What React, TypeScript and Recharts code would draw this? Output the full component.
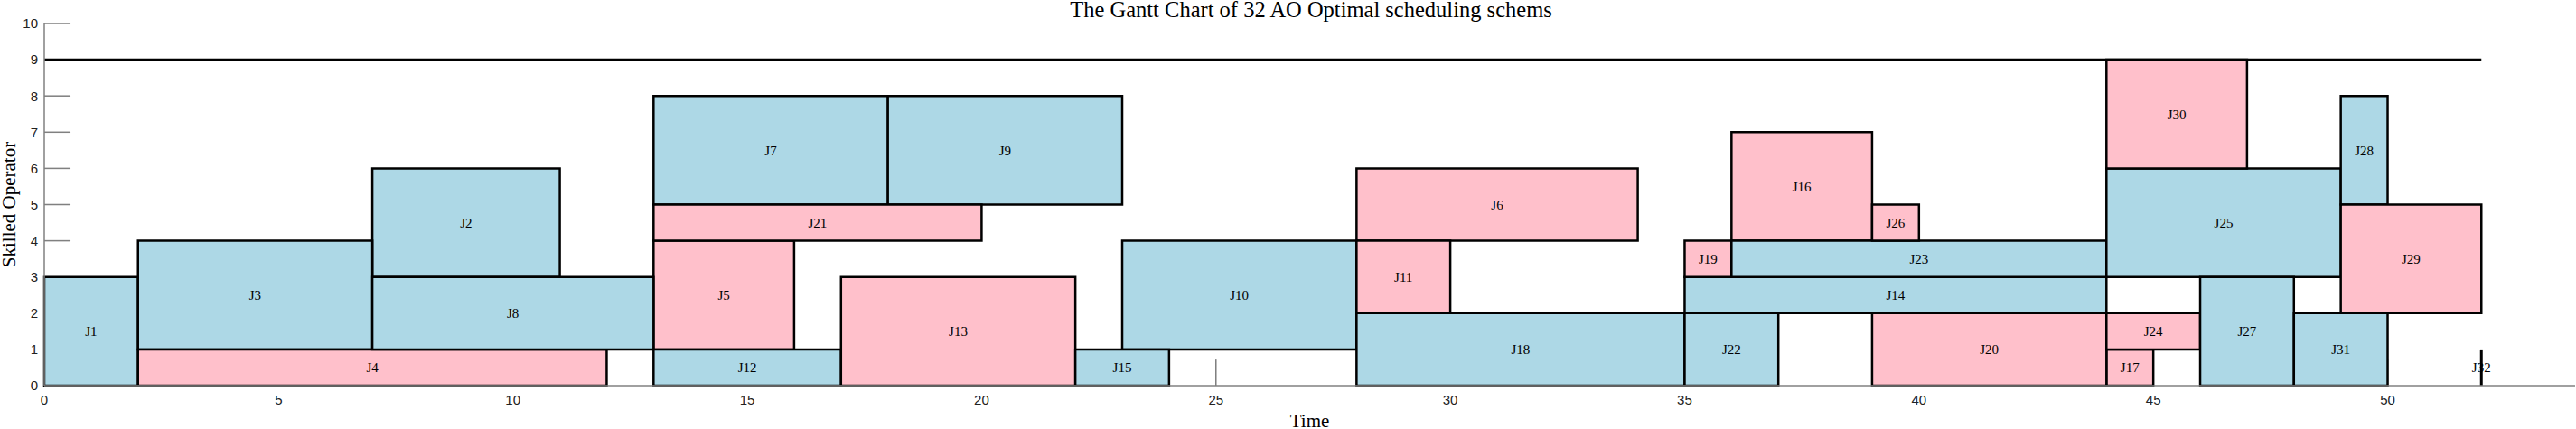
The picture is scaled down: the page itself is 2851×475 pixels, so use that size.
import { ComposedChart, XAxis, YAxis, ReferenceArea, ReferenceLine, Scatter } from 'recharts';

const TITLE = 'The Gantt Chart of 32 AO Optimal scheduling schems';

// one entry per job: start/end on the time axis, low/high operator band, job group
const JOBS = [
  'J1', 'J2', 'J3', 'J4', 'J5', 'J6', 'J7', 'J8', 'J9', 'J10', 'J11',
  'J12', 'J13', 'J14', 'J15', 'J16', 'J17', 'J18', 'J19', 'J20', 'J21',
  'J22', 'J23', 'J24', 'J25', 'J26', 'J27', 'J28', 'J29', 'J30', 'J31', 'J32',
];
const START = [0, 7, 2, 2, 13, 28, 13, 7, 18, 23, 28, 13, 17, 35, 22, 36, 44, 28, 35, 39, 13, 35, 36, 44, 44, 39, 46, 49, 49, 44, 48, 52];
const END = [2, 11, 7, 12, 16, 34, 18, 13, 23, 28, 30, 17, 22, 44, 24, 39, 45, 35, 36, 44, 20, 37, 44, 46, 49, 40, 48, 50, 52, 47, 50, 52];
const LOW = [0, 3, 1, 0, 1, 4, 5, 1, 5, 1, 2, 0, 0, 2, 0, 4, 0, 0, 3, 0, 4, 0, 3, 1, 3, 4, 0, 5, 2, 6, 0, 0];
const HIGH = [3, 6, 4, 1, 4, 6, 8, 3, 8, 4, 4, 1, 3, 3, 1, 7, 1, 2, 4, 2, 5, 2, 4, 2, 6, 5, 3, 8, 5, 9, 2, 1];
const GROUP = [
  'A', 'A', 'A', 'B', 'B', 'B', 'A', 'A', 'A', 'A', 'B',
  'A', 'B', 'A', 'A', 'B', 'B', 'A', 'B', 'B', 'B',
  'A', 'A', 'B', 'A', 'B', 'A', 'A', 'B', 'B', 'A', 'A',
];

const CAPACITY = 9;
const MAKESPAN = 52;

const X_TICKS = [0, 5, 10, 15, 20, 25, 30, 35, 40, 45, 50];
const Y_TICKS = [0, 1, 2, 3, 4, 5, 6, 7, 8, 9, 10];

const W = 2851;
const H = 475;
const X_MAX = 54;
const Y_MAX = 10;
const SERIF = '"Liberation Serif", "Times New Roman", serif';
const SANS = '"Liberation Sans", Arial, sans-serif';
const AXIS_GRAY = '#808080';
const GROUP_FILL: Record<string, string> = { A: '#ADD8E6', B: '#FFC0CB' };

// inward tick marks, drawn under the job boxes (lengths in data units ~ 29px)
const TICK_LEN_Y = 0.72;
const TICK_LEN_X = 0.56;
const TICK_HALF_X = 0.015;
const TICK_HALF_Y = 0.019;

export default function App() {
  const jobs = JOBS.map((name, i) => ({
    name,
    x1: START[i],
    x2: END[i],
    y1: LOW[i],
    y2: HIGH[i],
    group: GROUP[i],
  }));
  const boxes = jobs.filter((j) => j.x2 > j.x1);
  const lines = jobs.filter((j) => j.x2 === j.x1);
  // job start corners, only so the axes have a series to work from
  const anchors = jobs.map((j) => ({ x: j.x1, y: j.y1 }));

  return (
    <div style={{ position: 'relative', width: W, height: H, background: '#fff' }}>
      <style>{'body{margin:0}'}</style>
      <ComposedChart width={W} height={H} margin={{ top: 26, right: 1, bottom: 0, left: 0 }}>
        <XAxis
          type="number"
          dataKey="x"
          domain={[0, X_MAX]}
          allowDataOverflow
          ticks={X_TICKS}
          interval={0}
          height={48}
          tickLine={false}
          tickSize={-29}
          tickMargin={39}
          stroke={AXIS_GRAY}
          strokeWidth={1.5}
          tick={{ fill: '#222', fontSize: 15, fontFamily: SANS }}
          label={{
            value: 'Time',
            position: 'insideBottom',
            offset: 2,
            style: { fontSize: 21, fontFamily: SERIF, fill: '#000' },
          }}
        />
        <YAxis
          type="number"
          dataKey="y"
          domain={[0, Y_MAX]}
          allowDataOverflow
          ticks={Y_TICKS}
          interval={0}
          width={49}
          tickLine={false}
          tickSize={-29}
          tickMargin={36}
          stroke={AXIS_GRAY}
          strokeWidth={1.5}
          tick={{ fill: '#222', fontSize: 15, fontFamily: SANS }}
          label={{
            value: 'Skilled Operator',
            angle: -90,
            position: 'insideLeft',
            offset: 10,
            style: { fontSize: 21, fontFamily: SERIF, fill: '#000', textAnchor: 'middle' },
          }}
        />

        <Scatter data={anchors} shape={() => <g />} isAnimationActive={false} />

        {X_TICKS.map((t) => (
          <ReferenceArea
            key={`xt-${t}`}
            x1={t - TICK_HALF_X}
            x2={t + TICK_HALF_X}
            y1={0}
            y2={TICK_LEN_Y}
            fill={AXIS_GRAY}
            fillOpacity={1}
            strokeOpacity={0}
          />
        ))}
        {Y_TICKS.map((t) => (
          <ReferenceArea
            key={`yt-${t}`}
            x1={0}
            x2={TICK_LEN_X}
            y1={t - TICK_HALF_Y}
            y2={t + TICK_HALF_Y}
            fill={AXIS_GRAY}
            fillOpacity={1}
            strokeOpacity={0}
            ifOverflow="visible"
          />
        ))}

        {/* operator capacity */}
        <ReferenceLine
          segment={[
            { x: 0, y: CAPACITY },
            { x: MAKESPAN, y: CAPACITY },
          ]}
          stroke="#000"
          strokeWidth={2.5}
        />

        {boxes.map((j) => (
          <ReferenceArea
            key={j.name}
            x1={j.x1}
            x2={j.x2}
            y1={j.y1}
            y2={j.y2}
            fill={GROUP_FILL[j.group]}
            fillOpacity={1}
            stroke="#000"
            strokeWidth={2.5}
            label={{ value: j.name, position: 'center', fill: '#000', fontSize: 15, fontFamily: SERIF }}
          />
        ))}

        {/* zero-length jobs: label holder + vertical mark */}
        {lines.map((j) => (
          <ReferenceArea
            key={`lbl-${j.name}`}
            x1={j.x1 - 0.5}
            x2={j.x1 + 0.5}
            y1={j.y1}
            y2={j.y2}
            fillOpacity={0}
            strokeOpacity={0}
            label={{ value: j.name, position: 'center', fill: '#000', fontSize: 15, fontFamily: SERIF }}
          />
        ))}
        {lines.map((j) => (
          <ReferenceLine
            key={`line-${j.name}`}
            segment={[
              { x: j.x1, y: j.y1 },
              { x: j.x2, y: j.y2 },
            ]}
            stroke="#000"
            strokeWidth={3}
          />
        ))}
      </ComposedChart>
      <svg width={W} height={30} style={{ position: 'absolute', left: 0, top: 0 }}>
        <text x={1451} y={19} textAnchor="middle" fontSize={24.5} fontFamily={SERIF} fill="#000">
          {TITLE}
        </text>
      </svg>
    </div>
  );
}
